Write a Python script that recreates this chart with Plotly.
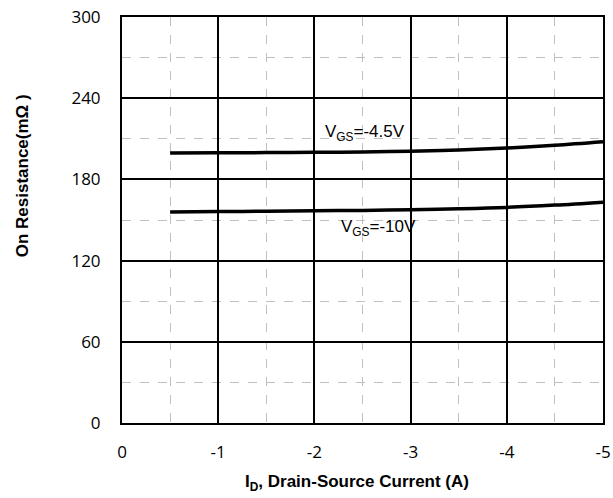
import plotly.graph_objects as go

current = [-0.5, -1, -1.5, -2, -2.5, -3, -3.5, -4, -4.5, -5]
rds_vgs45 = [199.5, 199.6, 199.8, 200.0, 200.3, 200.8, 201.8, 203.2, 205.2, 207.8]
rds_vgs10 = [156.0, 156.2, 156.5, 156.8, 157.1, 157.6, 158.3, 159.3, 161.0, 163.2]
x_ticks = [0, -1, -2, -3, -4, -5]
y_ticks = [0, 60, 120, 180, 240, 300]

fig = go.Figure()
fig.add_trace(go.Scatter(x=current, y=rds_vgs45, mode="lines", line=dict(color="black", width=3.5, shape="spline")))
fig.add_trace(go.Scatter(x=current, y=rds_vgs10, mode="lines", line=dict(color="black", width=3.5, shape="spline")))

tickfont = dict(family="Open Sans, Liberation Sans, Arial", size=17, color="black")
fig.update_xaxes(range=[0, -5], tickvals=x_ticks, ticktext=[str(v) for v in x_ticks],
                 showgrid=True, gridcolor="black", gridwidth=1.5, zeroline=False, automargin=False,
                 showline=True, linecolor="black", linewidth=2, mirror=True,
                 ticks="", ticklabelstandoff=13, tickfont=tickfont,
                 minor=dict(dtick=0.5, tick0=0, showgrid=True, gridcolor="#c0c0c0", gridwidth=1, griddash="dash"))
fig.update_yaxes(range=[0, 300], tickvals=y_ticks, ticktext=[str(v) for v in y_ticks],
                 showgrid=True, gridcolor="black", gridwidth=1.5, zeroline=False, automargin=False,
                 showline=True, linecolor="black", linewidth=2, mirror=True,
                 ticks="", ticklabelstandoff=16, tickfont=tickfont,
                 minor=dict(dtick=30, tick0=0, showgrid=True, gridcolor="#c0c0c0", gridwidth=1, griddash="dash"))

lab = dict(family="Liberation Sans, Arial", size=17, color="black")
fig.add_annotation(x=-2.09, y=214, text="V<sub>GS</sub>=-4.5V", showarrow=False, xanchor="left", yanchor="middle", font=lab)
fig.add_annotation(x=-2.26, y=144, text="V<sub>GS</sub>=-10V", showarrow=False, xanchor="left", yanchor="middle", font=lab)

title_font = dict(family="Liberation Sans, Arial", size=17, color="black")
fig.add_annotation(xref="paper", yref="paper", x=0.489, y=-0.147, text="<b>I<sub>D</sub>, Drain-Source Current (A)</b>",
                   showarrow=False, xanchor="center", yanchor="middle", font=title_font)
fig.add_annotation(xref="paper", yref="paper", x=-0.208, y=0.61, text="<b>On Resistance(mΩ )</b>", textangle=-90,
                   showarrow=False, xanchor="center", yanchor="middle", font=title_font)

fig.update_layout(width=613, height=498, margin=dict(l=122, r=10, t=17, b=75),
                  paper_bgcolor="white", plot_bgcolor="white", showlegend=False)
fig.write_html("out.html", config={"displayModeBar": False},
               post_script="document.body.style.margin='0px';document.body.style.padding='0px';")
